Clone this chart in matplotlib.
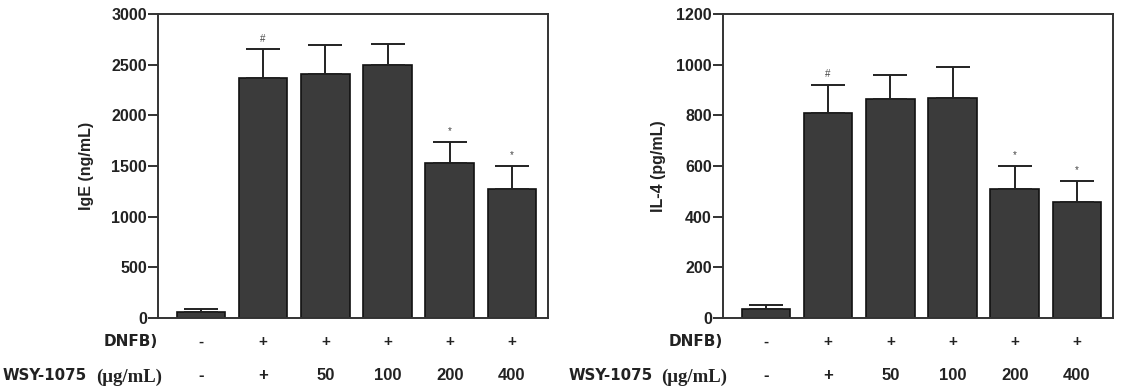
import matplotlib
matplotlib.use("Agg")
import matplotlib.pyplot as plt
import numpy as np

# ---- data ----
dnfb_labels = ['-', '+', '+', '+', '+', '+']
wsy_labels = ['-', '+', '50', '100', '200', '400']
ige_mean = [55, 2370, 2410, 2500, 1530, 1275]
ige_err = [30, 280, 285, 200, 210, 225]
il4_mean = [36, 808, 866, 870, 510, 457]
il4_err = [16, 113, 93, 122, 90, 85]
sig_marks = ['', '#', '', '', '*', '*']
ige_ticks = [0, 500, 1000, 1500, 2000, 2500, 3000]
il4_ticks = [0, 200, 400, 600, 800, 1000, 1200]

W, H = 1121, 390
fig = plt.figure(figsize=(W / 100, H / 100), dpi=100)

SANS = ['Liberation Sans', 'DejaVu Sans']
WIDE = ['DejaVu Sans']
SERIF = ['Liberation Serif', 'DejaVu Serif']
TXT = '#222222'

def panel(x0px, values, errs, ticks, ylabel, ylab_x):
    ax = fig.add_axes([x0px / W, 1 - 318 / H, 390 / W, 304 / H])
    x = np.arange(len(values))
    ax.bar(x, values, width=0.78, color='#3b3b3b', edgecolor='#111111',
           linewidth=1.2, zorder=2)
    ax.errorbar(x, values, yerr=[np.zeros(len(errs)), errs], fmt='none',
                ecolor='#222222', elinewidth=1.4, capsize=12, capthick=1.4,
                zorder=3)
    for xi, v, e, m in zip(x, values, errs, sig_marks):
        if m:
            ax.annotate(m, (xi, v + e), xytext=(0, 4), textcoords='offset points',
                        ha='center', va='bottom', fontsize=7, color='#444444',
                        family=SANS)
    ax.set_xlim(-0.69, 5.58)
    ax.set_ylim(ticks[0], ticks[-1])
    ax.set_yticks(ticks)
    ax.set_yticklabels([str(t) for t in ticks], fontsize=11.5, fontweight='bold',
                       color=TXT, family=SANS)
    ax.tick_params(axis='y', direction='out', length=7, width=1.3, pad=1,
                   color='#222222')
    ax.set_xticks([])
    for s in ax.spines.values():
        s.set_linewidth(1.4)
        s.set_color('#333333')
    ax.set_ylabel(ylabel, fontsize=11.5, fontweight='bold', color=TXT, family=SANS)
    ax.yaxis.set_label_coords(ylab_x, 0.5)
    tr = ax.get_xaxis_transform()
    for xi, a, b in zip(x, dnfb_labels, wsy_labels):
        ax.text(xi, -0.078, a, transform=tr, ha='center', va='center',
                fontsize=11, fontweight='bold', color=TXT, family=SANS)
        ax.text(xi, -0.19, b, transform=tr, ha='center', va='center',
                fontsize=12, fontweight='bold', color=TXT, family=SANS)
    # row labels
    ax.text(0.0, -0.076, 'DNFB)', transform=ax.transAxes, ha='right', va='center',
            fontsize=11, fontweight='bold', color=TXT, family=WIDE)
    return ax

ax1 = panel(158, ige_mean, ige_err, ige_ticks, 'IgE (ng/mL)', -0.165)
ax2 = panel(723, il4_mean, il4_err, il4_ticks, 'IL-4 (pg/mL)', -0.147)

# WSY-1075 row labels
for start, end in [(3, 162), (569, 727)]:
    fig.text(start / W, 1 - 376 / H, 'WSY-1075', ha='left', va='center',
             fontsize=10.8, fontweight='bold', color=TXT, family=WIDE)
    fig.text(end / W, 1 - 377 / H, '(\u03bcg/mL)', ha='right', va='center',
             fontsize=13.5, fontweight='bold', color=TXT, family=SERIF)

fig.savefig('out.png', dpi=100, facecolor='white')
